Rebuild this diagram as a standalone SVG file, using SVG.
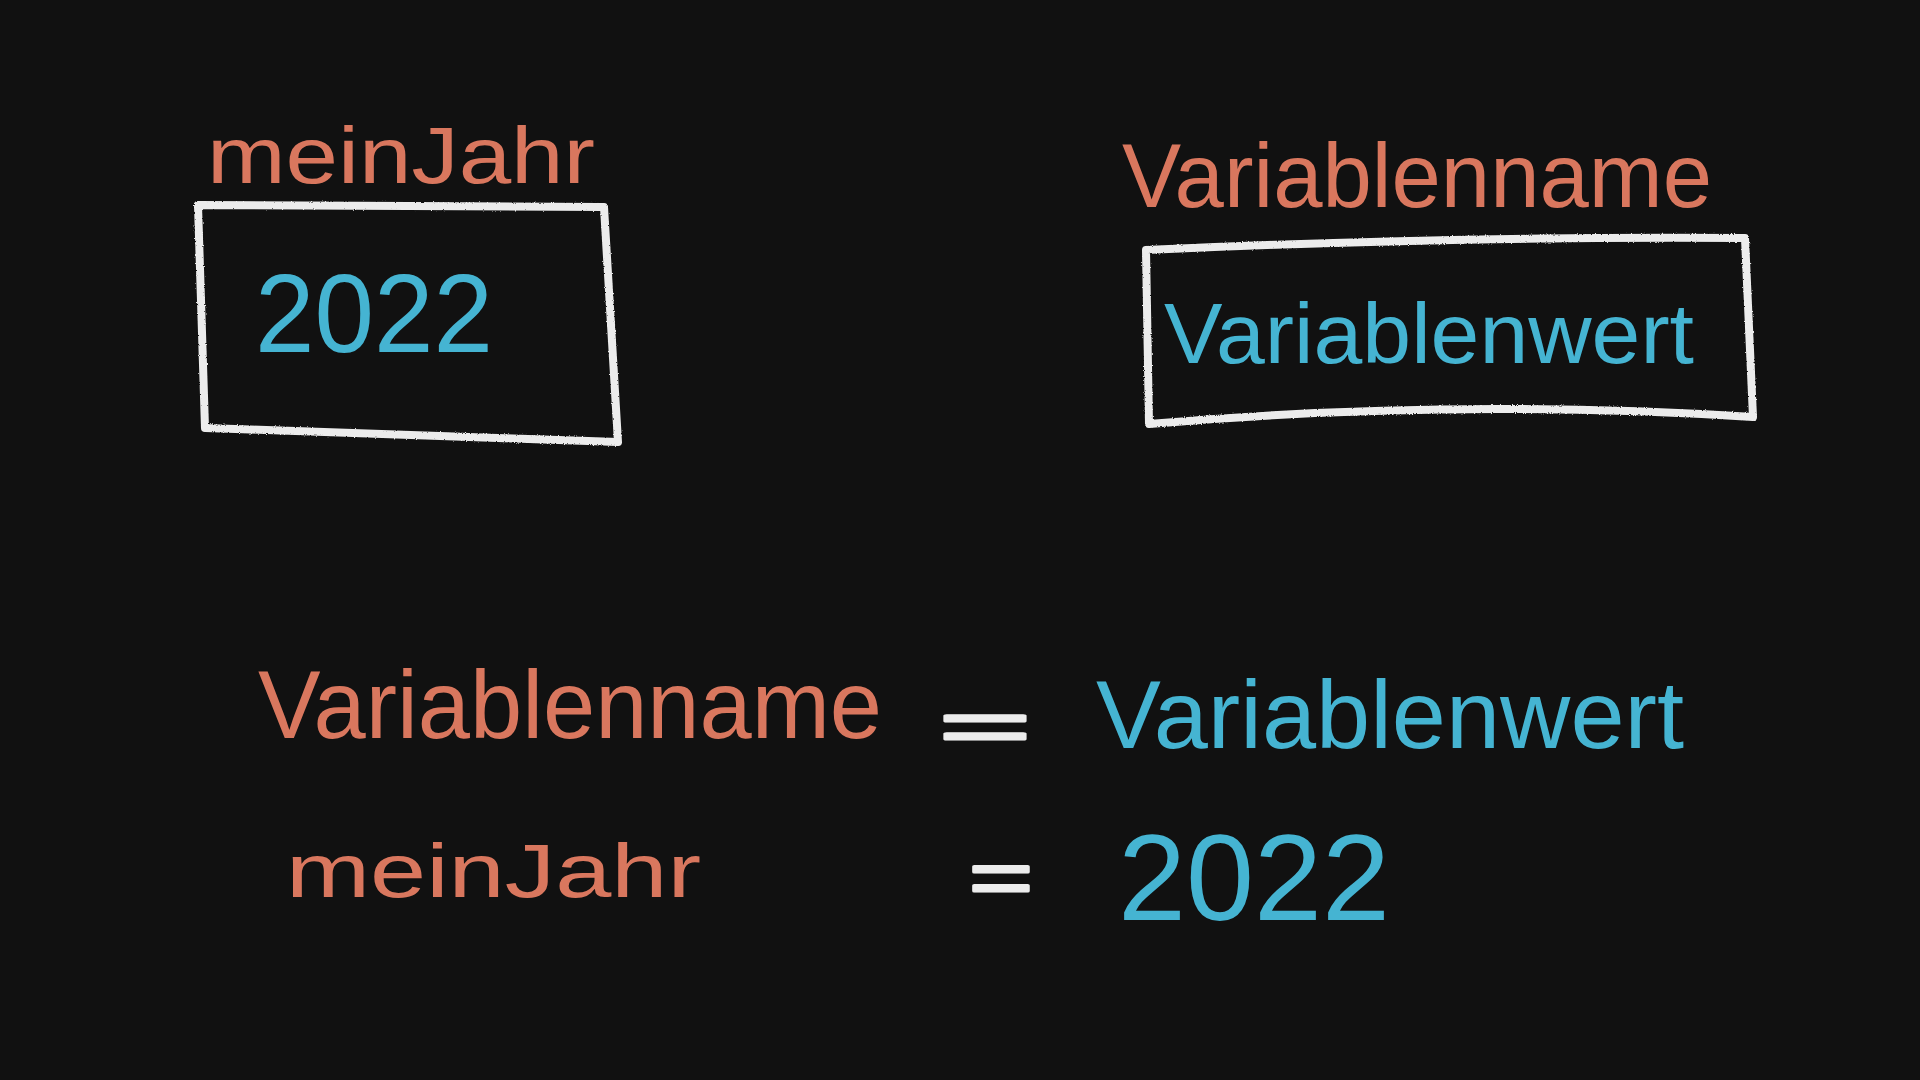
<svg xmlns="http://www.w3.org/2000/svg" width="1920" height="1080" viewBox="0 0 1920 1080">
  <defs>
    <filter id="chalk" x="-5%" y="-5%" width="110%" height="110%">
      <feTurbulence type="fractalNoise" baseFrequency="0.9" numOctaves="2" seed="3" result="n"/>
      <feDisplacementMap in="SourceGraphic" in2="n" scale="2.5" xChannelSelector="R" yChannelSelector="G"/>
    </filter>
  </defs>
  <style>
    .bg { fill: #111111; }
    .name { fill: #D9775E; font-family: "Liberation Sans", "DejaVu Sans", sans-serif; }
    .val { fill: #45B4D2; font-family: "Liberation Sans", "DejaVu Sans", sans-serif; }
    .eq { fill: #ECECEC; stroke: #ECECEC; stroke-width: 3; stroke-linejoin: round; font-family: "Liberation Sans", "DejaVu Sans", sans-serif; }
    .box { fill: none; stroke: #ECECEC; stroke-width: 8; stroke-linejoin: round; stroke-linecap: round; filter: url(#chalk); }
  </style>
  <rect class="bg" x="0" y="0" width="1920" height="1080"/>

  <g id="box-meinJahr">
    <text class="name" x="207" y="183" font-size="80" textLength="388" lengthAdjust="spacingAndGlyphs">meinJahr</text>
    <path class="box" d="M198,205 L604,207 L618,442 L205,428 Z"/>
    <text class="val" x="255" y="352" font-size="112" textLength="238" lengthAdjust="spacingAndGlyphs">2022</text>
  </g>

  <g id="box-variable">
    <text class="name" x="1122" y="207" font-size="90" textLength="590" lengthAdjust="spacingAndGlyphs">Variablenname</text>
    <path class="box" d="M1146,250 Q1450,236 1745,238 L1753,417 Q1450,398 1149,424 Z"/>
    <text class="val" x="1164" y="363" font-size="86" textLength="530" lengthAdjust="spacingAndGlyphs">Variablenwert</text>
  </g>

  <g id="eq-general">
    <text class="name" x="258" y="738" font-size="96" textLength="624" lengthAdjust="spacingAndGlyphs">Variablenname</text>
    <text class="eq" x="939" y="751" font-size="72" textLength="92" lengthAdjust="spacingAndGlyphs">=</text>
    <text class="val" x="1096" y="748" font-size="96" textLength="588" lengthAdjust="spacingAndGlyphs">Variablenwert</text>
  </g>

  <g id="eq-example">
    <text class="name" x="286" y="897" font-size="76" textLength="415" lengthAdjust="spacingAndGlyphs">meinJahr</text>
    <text class="eq" x="969" y="904" font-size="76" textLength="64" lengthAdjust="spacingAndGlyphs">=</text>
    <text class="val" x="1118" y="920" font-size="123" textLength="272" lengthAdjust="spacingAndGlyphs">2022</text>
  </g>

  <g id="connectors"/>
</svg>
